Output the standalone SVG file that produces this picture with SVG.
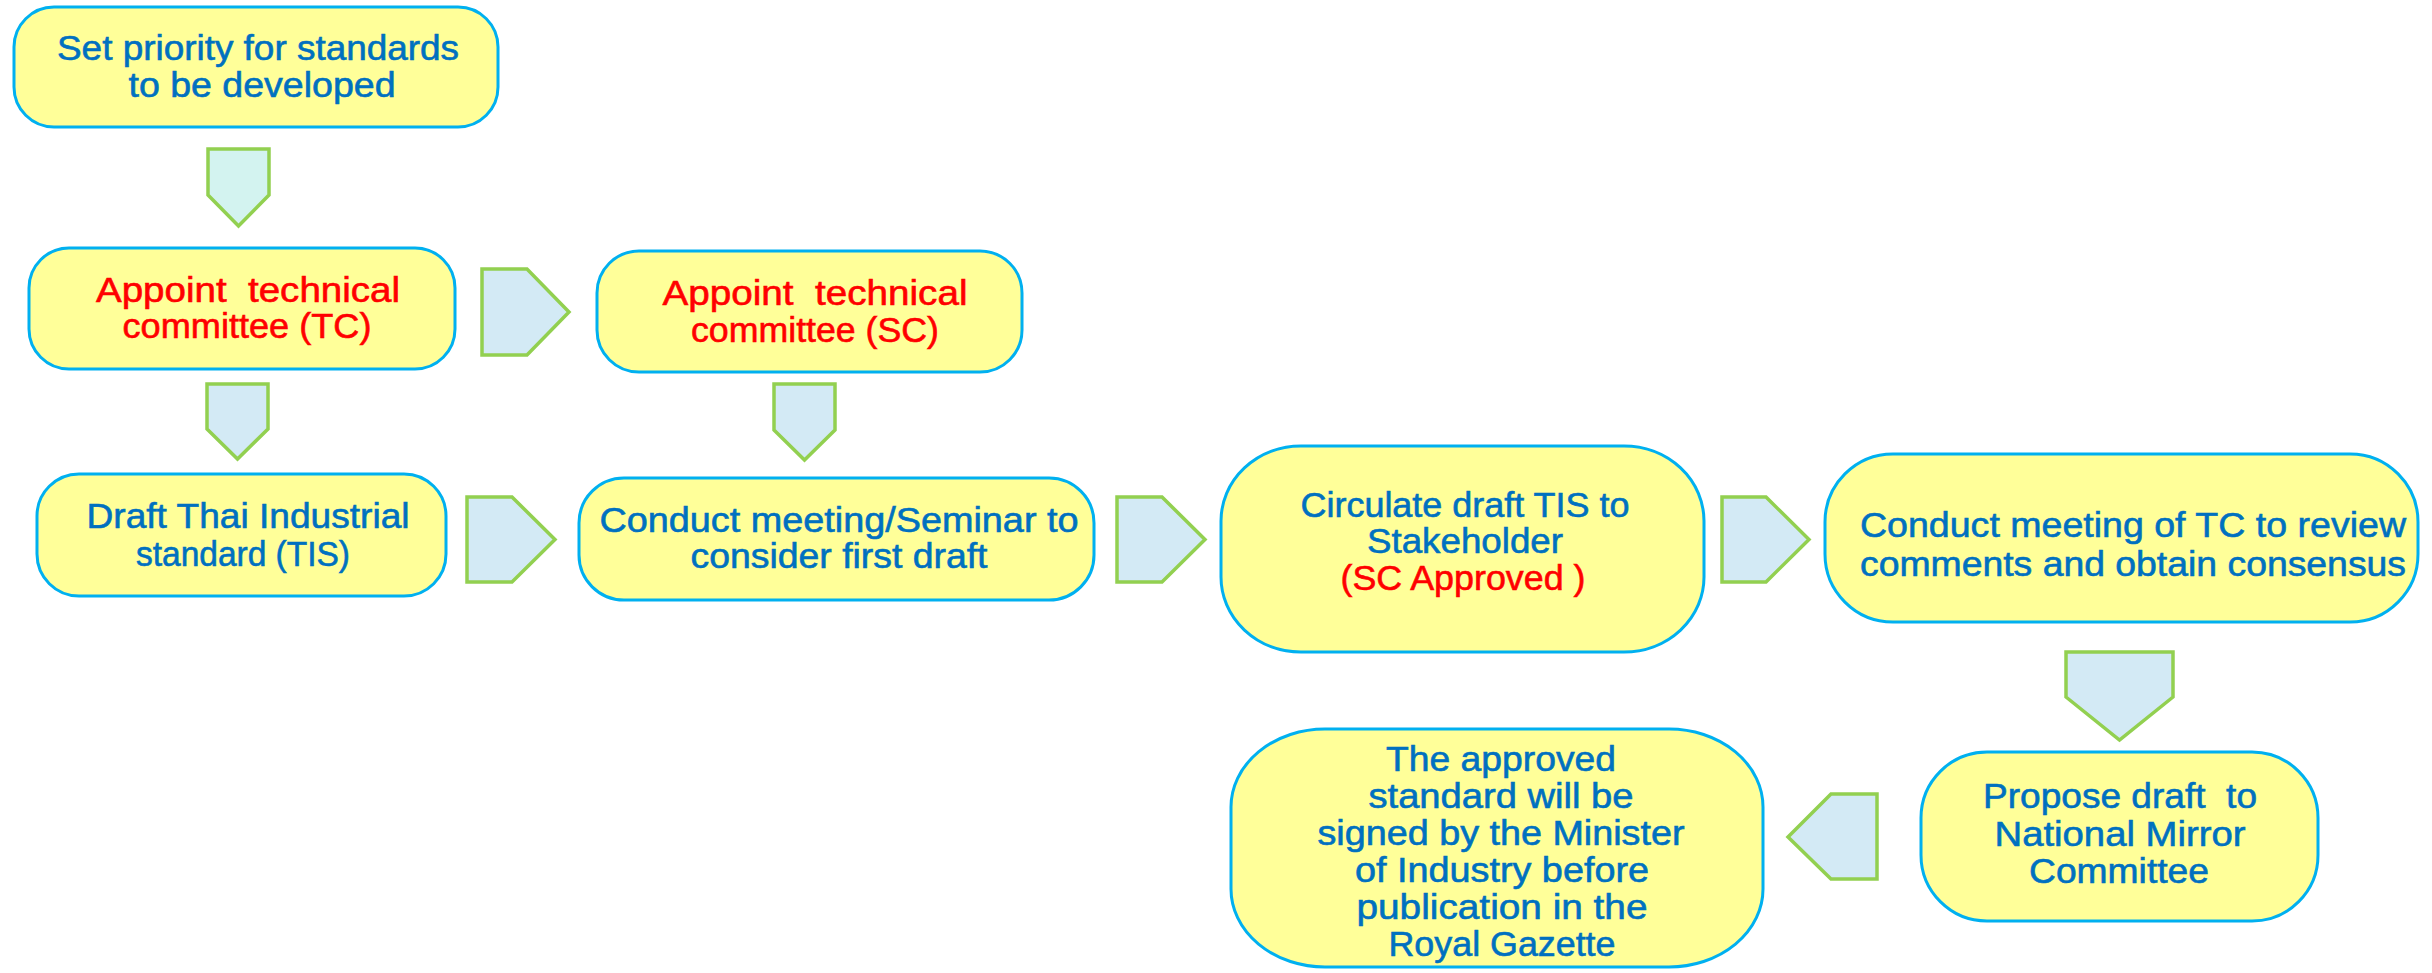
<svg xmlns="http://www.w3.org/2000/svg" width="2432" height="973" viewBox="0 0 2432 973">
<style>
.box{fill:#ffff99;stroke:#00b0f0;stroke-width:3}
.arr{fill:#d3eaf5;stroke:#92d050;stroke-width:3.5;stroke-linejoin:miter}
.arr1{fill:#d3f3f0}
text{font-family:"Liberation Sans",Arial,sans-serif;font-size:35px;text-anchor:middle;white-space:pre;stroke-width:0.6}
.b{fill:#0070c0;stroke:#0070c0}
.r{fill:#ff0000;stroke:#ff0000}
</style>
<rect width="2432" height="973" fill="#ffffff"/>
<g id="connectors">
<polygon class="arr arr1" points="208,149 269,149 269,195 238.5,226 208,195"/>
<polygon class="arr" points="482,269 527,269 569,312 527,355 482,355"/>
<polygon class="arr" points="207,384 268,384 268,429 237.5,459 207,429"/>
<polygon class="arr" points="774,384 835,384 835,430 804.5,460 774,430"/>
<polygon class="arr" points="467,497 512,497 555,539.5 512,582 467,582"/>
<polygon class="arr" points="1117,497 1162,497 1205,539.5 1162,582 1117,582"/>
<polygon class="arr" points="1722,497 1766,497 1809,539.5 1766,582 1722,582"/>
<polygon class="arr" points="2066,652 2173,652 2173,697 2119.5,740 2066,697"/>
<polygon class="arr" points="1877,794 1831,794 1788,837 1831,879 1877,879"/>
</g>
<g id="n1">
<rect class="box" x="14" y="7" width="484" height="120" rx="40" ry="40"/>
<text class="b" x="258" y="60" textLength="402" lengthAdjust="spacingAndGlyphs">Set priority for standards</text>
<text class="b" x="262" y="97" textLength="267" lengthAdjust="spacingAndGlyphs">to be developed</text>
</g>
<g id="n2">
<rect class="box" x="29" y="248" width="426" height="121" rx="40" ry="40"/>
<text class="r" x="248" y="302" textLength="304" lengthAdjust="spacingAndGlyphs" xml:space="preserve">Appoint  technical</text>
<text class="r" x="247" y="338" textLength="249" lengthAdjust="spacingAndGlyphs">committee (TC)</text>
</g>
<g id="n3">
<rect class="box" x="597" y="251" width="425" height="121" rx="42" ry="42"/>
<text class="r" x="815" y="305" textLength="305" lengthAdjust="spacingAndGlyphs" xml:space="preserve">Appoint  technical</text>
<text class="r" x="815" y="342" textLength="248" lengthAdjust="spacingAndGlyphs">committee (SC)</text>
</g>
<g id="n4">
<rect class="box" x="37" y="474" width="409" height="122" rx="42" ry="42"/>
<text class="b" x="248" y="528" textLength="323" lengthAdjust="spacingAndGlyphs">Draft Thai Industrial</text>
<text class="b" x="243" y="566" textLength="214" lengthAdjust="spacingAndGlyphs">standard (TIS)</text>
</g>
<g id="n5">
<rect class="box" x="579" y="478" width="515" height="122" rx="45" ry="45"/>
<text class="b" x="839" y="532" textLength="479" lengthAdjust="spacingAndGlyphs">Conduct meeting/Seminar to</text>
<text class="b" x="839" y="568" textLength="297" lengthAdjust="spacingAndGlyphs">consider first draft</text>
</g>
<g id="n6">
<rect class="box" x="1221" y="446" width="483" height="206" rx="80" ry="75"/>
<text class="b" x="1465" y="517" textLength="329" lengthAdjust="spacingAndGlyphs">Circulate draft TIS to</text>
<text class="b" x="1465" y="553" textLength="196" lengthAdjust="spacingAndGlyphs">Stakeholder</text>
<text class="r" x="1463" y="590" textLength="245" lengthAdjust="spacingAndGlyphs" xml:space="preserve">(SC Approved )</text>
</g>
<g id="n7">
<rect class="box" x="1825" y="454" width="593" height="168" rx="68" ry="68"/>
<text class="b" x="2133" y="537" textLength="546" lengthAdjust="spacingAndGlyphs">Conduct meeting of TC to review</text>
<text class="b" x="2133" y="576" textLength="546" lengthAdjust="spacingAndGlyphs">comments and obtain consensus</text>
</g>
<g id="n8">
<rect class="box" x="1921" y="752" width="397" height="169" rx="66" ry="66"/>
<text class="b" x="2120" y="808" textLength="274" lengthAdjust="spacingAndGlyphs" xml:space="preserve">Propose draft  to</text>
<text class="b" x="2120" y="846" textLength="251" lengthAdjust="spacingAndGlyphs">National Mirror</text>
<text class="b" x="2119" y="883" textLength="180" lengthAdjust="spacingAndGlyphs">Committee</text>
</g>
<g id="n9">
<rect class="box" x="1231" y="729" width="532" height="238" rx="94" ry="78"/>
<text class="b" x="1501" y="771" textLength="230" lengthAdjust="spacingAndGlyphs">The approved</text>
<text class="b" x="1501" y="808" textLength="265" lengthAdjust="spacingAndGlyphs">standard will be</text>
<text class="b" x="1501" y="845" textLength="367" lengthAdjust="spacingAndGlyphs">signed by the Minister</text>
<text class="b" x="1502" y="882" textLength="294" lengthAdjust="spacingAndGlyphs">of Industry before</text>
<text class="b" x="1502" y="919" textLength="291" lengthAdjust="spacingAndGlyphs">publication in the</text>
<text class="b" x="1502" y="956" textLength="227" lengthAdjust="spacingAndGlyphs">Royal Gazette</text>
</g>
</svg>
